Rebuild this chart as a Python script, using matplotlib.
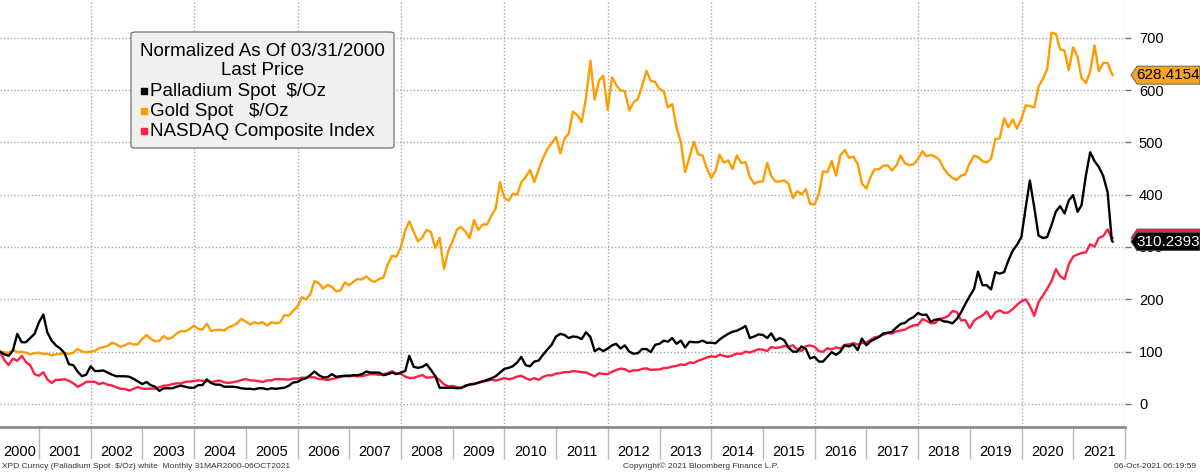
import matplotlib
matplotlib.use("Agg")
import matplotlib.pyplot as plt
import matplotlib.dates as mdates
from matplotlib.lines import Line2D
from matplotlib.patches import Polygon, FancyBboxPatch
from matplotlib.transforms import IdentityTransform
import pandas as pd

plt.rcParams["font.family"] = ["Liberation Sans", "DejaVu Sans"]

GOLD = "#ff9c00"
PALL = "#000000"
NDX = "#ff1f45"
GRID = "#a8a8a8"

# month ends from 31 Mar 2000, last point is 06 Oct 2021
dates = list(pd.date_range("2000-03-31", "2021-09-30", freq=pd.offsets.MonthEnd()))
dates.append(pd.Timestamp("2021-10-06"))

# normalized to 100 on 03/31/2000, one row per year
palladium = [
    100, 95, 92, 102, 134, 118, 118, 126, 134, 156,
    171, 137, 121, 112, 106, 97, 76, 74, 62, 53, 56, 72,
    63, 63, 64, 60, 56, 53, 53, 53, 52, 48, 43, 38,
    42, 36, 33, 25, 30, 30, 30, 33, 35, 33, 31, 31,
    36, 36, 47, 40, 37, 37, 33, 33, 33, 32, 30, 29,
    29, 28, 30, 30, 28, 30, 29, 30, 31, 35, 41, 42,
    47, 49, 55, 62, 55, 51, 51, 57, 52, 53, 54, 54,
    55, 55, 57, 62, 60, 60, 60, 55, 57, 60, 57, 60,
    63, 92, 71, 69, 71, 76, 65, 53, 31, 31, 31, 31,
    30, 31, 35, 37, 38, 41, 43, 46, 49, 53, 60, 67,
    69, 72, 79, 90, 74, 72, 81, 83, 94, 104, 113, 129,
    134, 132, 126, 129, 128, 124, 137, 128, 101, 106, 101, 106,
    112, 115, 106, 112, 100, 96, 97, 105, 105, 99, 113, 115,
    121, 119, 126, 115, 121, 108, 119, 118, 118, 121, 117, 117,
    116, 123, 129, 134, 138, 140, 144, 149, 126, 129, 133, 132,
    126, 135, 121, 126, 122, 108, 100, 100, 110, 105, 87, 90,
    81, 81, 90, 99, 94, 100, 112, 110, 114, 103, 125, 112,
    120, 124, 128, 135, 136, 138, 146, 153, 155, 162, 166, 174,
    170, 171, 157, 161, 162, 158, 157, 154, 162, 175, 191, 206,
    220, 253, 227, 227, 219, 252, 249, 252, 274, 293, 304, 319,
    376, 427, 376, 322, 317, 319, 342, 368, 378, 364, 389, 399,
    367, 380, 437, 481, 464, 453, 436, 405, 312, 310.2393,
]

gold = [
    100.0, 98.8, 97.7, 103.4, 99.1, 99.5, 98.1, 94.8, 97.0, 98.1,
    95.2, 95.9, 92.7, 94.8, 95.9, 97.0, 95.5, 98.1, 105.2, 100.2, 98.8, 100.2,
    101.3, 106.7, 108.5, 110.6, 117.1, 114.2, 109.2, 112.1, 116.4, 113.5, 114.2, 124.6,
    131.8, 124.6, 120.0, 120.7, 129.7, 124.3, 127.2, 134.7, 139.4, 138.6, 143.0, 149.4,
    143.7, 142.2, 153.4, 139.4, 141.2, 141.9, 140.4, 146.6, 149.4, 154.1, 162.7, 157.3,
    151.6, 156.3, 153.7, 156.3, 149.8, 156.3, 154.1, 155.9, 169.9, 168.8, 177.8, 185.7,
    204.0, 199.7, 209.1, 234.9, 231.0, 220.5, 227.4, 223.8, 215.2, 217.0, 232.0, 227.0,
    233.5, 238.9, 237.8, 243.9, 236.7, 233.5, 238.9, 241.7, 266.9, 283.4, 281.3, 299.6,
    331.5, 349.1, 329.0, 310.7, 318.2, 332.6, 328.3, 297.8, 317.5, 257.9, 292.7, 311.1,
    333.3, 338.4, 329.4, 317.2, 351.6, 332.6, 343.0, 343.0, 359.6, 373.6, 423.9, 394.0,
    388.3, 401.9, 399.8, 423.9, 433.6, 447.2, 424.2, 448.3, 469.5, 487.4, 497.8, 510.4,
    478.8, 506.5, 516.9, 558.9, 551.7, 538.8, 584.8, 655.9, 581.9, 618.5, 627.2, 562.1,
    624.3, 609.6, 599.1, 597.7, 560.7, 576.1, 582.6, 608.1, 636.5, 617.5, 615.3, 601.7,
    597.3, 566.8, 572.9, 528.7, 500.4, 443.2, 471.6, 501.4, 476.7, 475.2, 450.1, 431.8,
    445.4, 476.3, 461.2, 465.5, 449.0, 474.9, 460.5, 462.3, 433.9, 420.6, 424.6, 425.3,
    460.8, 435.7, 424.9, 425.3, 427.4, 421.0, 393.3, 406.6, 400.5, 410.2, 382.5, 381.1,
    401.6, 444.7, 442.9, 464.4, 436.4, 474.9, 485.3, 470.2, 472.7, 458.7, 421.3, 411.6,
    435.0, 448.6, 448.6, 455.5, 455.8, 446.1, 455.8, 474.9, 459.8, 456.5, 458.0, 468.0,
    483.1, 473.4, 475.9, 472.7, 466.6, 450.1, 439.7, 431.8, 428.2, 436.4, 438.9, 460.5,
    474.5, 471.6, 464.1, 461.2, 468.8, 506.1, 507.9, 546.0, 528.7, 543.5, 525.9, 544.9,
    570.8, 569.3, 566.5, 606.0, 621.4, 639.7, 709.4, 706.9, 677.8, 674.9, 638.3, 681.8,
    663.4, 622.8, 613.5, 635.4, 685.0, 635.8, 651.6, 651.6, 631.1, 628.4154,
]

nasdaq = [
    100.0, 84.4, 74.4, 86.7, 82.4, 92.0, 80.3, 73.7, 56.8, 54.0,
    60.6, 47.1, 40.2, 46.3, 46.1, 47.3, 44.3, 39.5, 32.8, 37.0, 42.2, 42.6,
    42.3, 37.9, 40.4, 36.9, 35.3, 32.0, 29.0, 28.8, 25.6, 29.1, 32.3, 29.2,
    28.9, 29.3, 29.3, 32.0, 34.9, 35.5, 37.9, 39.6, 39.1, 42.2, 42.9, 43.8,
    45.2, 44.4, 43.6, 42.0, 43.5, 44.8, 41.3, 40.2, 41.5, 43.2, 45.9, 47.6,
    45.1, 44.9, 43.7, 42.0, 45.2, 45.0, 47.8, 47.1, 47.1, 46.4, 48.8, 48.2,
    50.4, 49.9, 51.2, 50.8, 47.6, 47.5, 45.7, 47.8, 49.4, 51.8, 53.2, 52.8,
    53.9, 52.8, 53.0, 55.2, 57.0, 56.9, 55.7, 56.8, 59.1, 62.5, 58.2, 58.0,
    52.3, 49.7, 49.8, 52.8, 55.2, 50.1, 50.9, 51.8, 45.7, 37.6, 33.6, 34.5,
    32.3, 30.1, 33.4, 37.6, 38.8, 40.1, 43.3, 43.9, 46.4, 44.7, 46.9, 49.6,
    47.0, 48.9, 52.4, 53.8, 49.4, 46.1, 49.3, 46.2, 51.8, 54.8, 54.6, 58.0,
    59.0, 60.8, 60.8, 62.8, 62.0, 60.7, 60.3, 56.4, 52.8, 58.7, 57.3, 57.0,
    61.5, 64.9, 67.6, 66.6, 61.8, 64.2, 64.3, 67.1, 68.1, 65.1, 65.8, 66.0,
    68.7, 69.1, 71.5, 72.8, 75.6, 74.4, 79.3, 78.5, 82.5, 85.7, 88.8, 91.3,
    89.7, 94.2, 91.8, 90.0, 92.8, 96.4, 95.6, 100.2, 98.3, 101.3, 104.8, 103.6,
    101.4, 108.6, 107.2, 108.1, 110.9, 109.1, 112.1, 104.5, 101.0, 110.5, 111.7, 109.5,
    100.9, 99.7, 106.5, 104.4, 108.2, 105.9, 112.9, 114.0, 116.2, 113.5, 116.4, 117.7,
    122.8, 127.4, 129.3, 132.3, 135.6, 134.3, 138.8, 140.6, 142.1, 147.1, 150.3, 151.0,
    162.1, 159.0, 154.5, 154.5, 162.7, 164.2, 167.8, 177.4, 176.0, 159.8, 160.3, 145.1,
    159.2, 164.7, 169.0, 177.0, 163.0, 175.1, 178.8, 174.1, 174.9, 181.3, 189.5, 196.2,
    200.1, 187.3, 168.4, 194.4, 207.5, 220.0, 235.0, 257.5, 244.2, 238.6, 266.8, 281.8,
    285.8, 288.5, 289.7, 305.3, 300.7, 317.2, 320.9, 333.7, 316.0, 317.1,
]

years = list(range(2000, 2022))
y_ticks = [0, 100, 200, 300, 400, 500, 600, 700]
legend_title = ["Normalized As Of 03/31/2000", "Last Price"]
labels = ["Palladium Spot  $/Oz", "Gold Spot   $/Oz", "NASDAQ Composite Index"]

W, H = 1200, 472
fig = plt.figure(figsize=(W / 100, H / 100), dpi=100)
ax = fig.add_axes([0, 45 / H, 1125 / W, 427 / H])

ax.plot(dates, gold, color=GOLD, lw=1.7, zorder=3)
ax.plot(dates, nasdaq, color=NDX, lw=1.7, zorder=4)
ax.plot(dates, palladium, color=PALL, lw=1.7, zorder=5)

x0 = mdates.date2num(pd.Timestamp("2000-03-31"))
x1 = mdates.date2num(pd.Timestamp("2022-01-01"))
ax.set_xlim(x0, x1)
ax.set_ylim(-44, 772)

# y axis on the right
ax.yaxis.tick_right()
ax.set_yticks(y_ticks)
ax.tick_params(axis="y", length=4, width=1, color="#707070", pad=6, labelsize=10.5)
ax.grid(axis="y", color=GRID, lw=1, linestyle=(0, (1, 1.5)))

# x axis: year boundaries as long ticks, labels between them
starts = [mdates.date2num(pd.Timestamp(str(y + 1) + "-01-01")) for y in years]
mids = [(max(x0, mdates.date2num(pd.Timestamp(str(y) + "-01-01"))) + s) / 2 for y, s in zip(years, starts)]
ax.set_xticks(starts)
ax.set_xticklabels([])
ax.set_xticks(mids, minor=True)
ax.set_xticklabels([str(y) for y in years], minor=True)
ax.tick_params(axis="x", which="major", length=23, width=1, color="#b8b8b8")
ax.tick_params(axis="x", which="minor", length=0, pad=13, labelsize=10.5)

for y in years[2::2] + [2022]:
    ax.axvline(mdates.date2num(pd.Timestamp(str(y) + "-01-01")), color=GRID, lw=1,
               linestyle=(0, (1, 1.5)), zorder=1)

for s in ["top", "left", "right"]:
    ax.spines[s].set_visible(False)
ax.spines["bottom"].set_color("#8c8c8c")
ax.spines["bottom"].set_linewidth(2)

# legend box drawn by hand (pixel layout from the top-left corner)
def fx(px):
    return px / W

def fy(py):
    return 1 - py / H

box = FancyBboxPatch((fx(131), fy(148)), fx(394) - fx(131), fy(32) - fy(148),
                     boxstyle="round,pad=0,rounding_size=0.004", transform=fig.transFigure,
                     facecolor="#f0f0f0", edgecolor="#808080", lw=1, zorder=30)
fig.add_artist(box)
for k, line in enumerate(legend_title):
    fig.text(fx(262.5), fy(51 + 20 * k), line, ha="center", va="center",
             fontsize=13.5, color="black", zorder=31)
for k, (lab, c) in enumerate(zip(labels, [PALL, GOLD, NDX])):
    yy = fy(91 + 20 * k)
    fig.add_artist(Line2D([fx(143.7)], [yy], ls="none", marker="s", ms=4.6, mfc=c, mec=c,
                          transform=fig.transFigure, zorder=31))
    fig.text(fx(150), yy, lab, ha="left", va="center", fontsize=13.5, color="black", zorder=31)

# last value tags on the right (the NASDAQ one sits behind the palladium one)
fig.canvas.draw()
tags = [(gold[-1], "#f7a51e", "black", True),
        (nasdaq[-1], NDX, NDX, False),
        (palladium[-1], "black", "white", True)]
for k, (val, fill, txt, show) in enumerate(tags):
    yd = ax.transData.transform((mdates.date2num(dates[-1]), val))[1]
    pts = [(1131, yd), (1137, yd - 9), (1200, yd - 9), (1200, yd + 9), (1137, yd + 9)]
    fig.add_artist(Polygon(pts, closed=True, facecolor=fill, edgecolor="#505050", lw=0.6,
                           transform=IdentityTransform(), zorder=20 + 2 * k))
    if show:
        fig.text(1168 / W, yd / H, "%.4f" % val, ha="center", va="center",
                 fontsize=11, color=txt, zorder=21 + 2 * k)

fig.text(0.002, 6 / H, "XPD Curncy (Palladium Spot  $/Oz) white  Monthly 31MAR2000-06OCT2021",
         fontsize=6, color="#333333", va="center", ha="left")
fig.text(701 / W, 6 / H, "Copyright\u00a9 2021 Bloomberg Finance L.P.",
         fontsize=6, color="#333333", va="center", ha="center")
fig.text(0.997, 6 / H, "06-Oct-2021 06:19:59",
         fontsize=6, color="#333333", va="center", ha="right")

fig.savefig("out.png", dpi=100)
